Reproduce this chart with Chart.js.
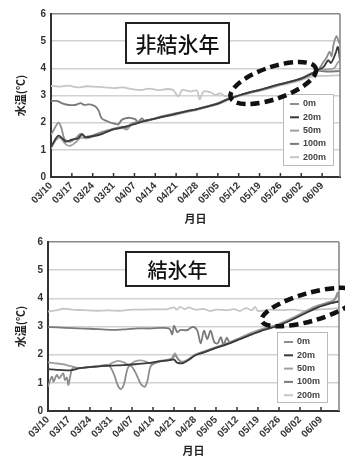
<!DOCTYPE html>
<html>
<head>
<meta charset="utf-8">
<script src="https://cdn.jsdelivr.net/npm/chart.js@4.4.0/dist/chart.umd.min.js"></script>
<style>
  html, body { margin: 0; padding: 0; background: #fff; }
  #wrap { position: relative; width: 345px; height: 459px; }
  canvas { position: absolute; left: 0; }
</style>
</head>
<body>
<div id="wrap">
  <canvas id="topChart" width="345" height="229" style="top:0"></canvas>
  <canvas id="botChart" width="345" height="230" style="top:229px"></canvas>
</div>
<script>
// tick labels, one per week from 03/10 (day 0)
const tickLabels = ["03/10", "03/17", "03/24", "03/31", "04/07", "04/14", "04/21",
  "04/28", "05/05", "05/12", "05/19", "05/26", "06/02", "06/09"];
const seriesNames = ["0m", "20m", "50m", "100m", "200m"];

// 非結氷年 : [day since 03/10, water temp]
const top0m = [[0,1.55],[1,1.75],[2.5,2.0],[3.5,1.8],[4.5,1.4],[6,1.3],[7,1.32],[8.5,1.45],[10,1.6],[11,1.5],
  [13,1.5],[16,1.62],[19,1.72],[21,1.78],[24,1.85],[25,1.8],[27,1.97],[30,2.05],[33,2.1],[37,2.23],[42,2.35],
  [46,2.44],[49,2.5],[53,2.62],[56,2.72],[60,2.9],[63,3.0],[67,3.13],[70,3.22],[74,3.33],[77,3.43],[81,3.53],
  [84,3.64],[87,3.8],[89.5,3.93],[91.5,4.24],[92.6,4.42],[93.5,4.61],[94.2,4.45],[94.9,4.91],[95.8,5.18],[96.6,4.97],[97,4.9]];
const top20m = [[0,1.1],[1,1.3],[2.5,1.52],[4,1.4],[5,1.3],[7,1.38],[9,1.42],[10.5,1.58],[11.5,1.47],[14,1.5],
  [17,1.58],[20,1.72],[23,1.8],[26,1.88],[28,1.95],[31,2.05],[35,2.15],[39,2.25],[42,2.33],[46,2.43],[49,2.5],
  [52,2.58],[56,2.7],[59,2.85],[63,3.0],[66,3.1],[70,3.2],[73,3.3],[77,3.42],[80,3.5],[84,3.62],[87,3.78],
  [89.5,3.93],[91.5,4.05],[93,4.3],[94,4.2],[95.5,4.55],[96.3,4.79],[97,4.3]];
const top50m = [[0,1.05],[1.5,1.35],[3,1.45],[5,1.2],[6.5,1.15],[8,1.25],[10,1.45],[12,1.42],[15,1.55],[18,1.65],
  [21,1.75],[24,1.8],[25.5,1.75],[27,1.92],[30,2.02],[34,2.12],[38,2.22],[42,2.3],[46,2.41],[49,2.47],[53,2.6],
  [56,2.68],[60,2.87],[63,2.98],[67,3.1],[70,3.18],[74,3.3],[77,3.4],[81,3.5],[84,3.6],[87,3.75],[89.5,3.92],
  [92,3.95],[95,4.0],[96.5,4.25],[97,4.2]];
const top100m = [[0,2.8],[2,2.8],[4,2.7],[6,2.65],[8,2.65],[10,2.72],[11,2.66],[13,2.67],[14.8,2.6],[15.9,2.46],
  [17,2.16],[18.7,2.06],[20.9,1.97],[22.6,1.94],[23.7,2.1],[24.9,2.16],[26.5,2.18],[28.2,2.13],[29.3,2.03],
  [30.5,2.16],[31.6,2.05],[33.3,2.1],[37,2.22],[42,2.32],[46,2.42],[49,2.49],[53,2.6],[56,2.7],[60,2.88],
  [63,3.0],[67,3.12],[70,3.2],[74,3.31],[77,3.41],[81,3.52],[84,3.62],[87,3.76],[89.5,3.9],[93,3.88],[97,3.9]];
const top200m = [[0,3.35],[3,3.33],[6,3.36],[9,3.3],[12,3.34],[15,3.32],[18,3.3],[21,3.27],[24,3.3],[27,3.24],
  [30,3.2],[33,3.25],[36,3.2],[39,3.24],[41,3.2],[42.8,2.97],[44,3.2],[46.6,3.15],[49,3.18],[49.9,2.85],
  [51.2,3.15],[53.5,3.12],[55.2,3.02],[56.9,3.08],[58.5,2.97],[60,3.0],[62,2.98],[66,3.08],[70,3.18],
  [74,3.28],[77,3.37],[81,3.47],[84,3.57],[87,3.68],[90,3.72],[93,3.72],[97,3.75]];

// 結氷年
const bot0m = [[0,0.87],[1.3,1.22],[1.9,1.04],[2.9,1.28],[3.7,1.16],[5.1,1.34],[5.6,1.1],[6.3,1.19],[6.8,0.93],
  [8.2,1.52],[10.7,1.52],[16,1.58],[20.2,1.62],[22,1.3],[23.3,0.9],[24.3,0.78],[25.3,0.95],[26.5,1.5],
  [27.5,1.62],[29,1.4],[31,0.95],[32.3,0.86],[33.2,1.1],[34.3,1.6],[37,1.75],[41,1.83],[42.5,1.98],
  [43.3,1.85],[44.5,1.72],[46.5,1.8],[49,1.98],[52,2.1],[56,2.25],[60,2.4],[64,2.57],[68,2.75],[72,2.9],
  [76,3.02],[81,3.25],[86,3.5],[90,3.72],[93,3.85],[95.5,3.95],[96.5,4.2],[97,4.15]];
const bot20m = [[0,1.49],[3,1.46],[6,1.44],[8,1.45],[10.7,1.52],[14,1.56],[18,1.59],[21,1.61],[25,1.63],
  [29,1.66],[33,1.7],[37,1.76],[40,1.8],[42,1.82],[43,1.72],[45,1.7],[47,1.82],[49,1.97],[52,2.08],[56,2.24],
  [60,2.38],[64,2.55],[68,2.72],[72,2.88],[76,3.0],[81,3.22],[86,3.48],[90,3.68],[94,3.82],[97,3.9]];
const bot50m = [[0,1.73],[2,1.7],[5.1,1.66],[8,1.58],[10.7,1.52],[14,1.57],[18,1.6],[20.2,1.63],[21.5,1.72],
  [23.5,1.78],[25.5,1.72],[26.9,1.63],[27.5,1.66],[29,1.76],[31,1.8],[33,1.74],[34.2,1.68],[37,1.77],
  [41,1.85],[42.3,2.05],[43,1.9],[44.5,1.75],[46.5,1.82],[49,2.0],[52,2.12],[56,2.27],[60,2.42],[64,2.6],
  [68,2.78],[72,2.93],[76,3.05],[81,3.28],[86,3.55],[90,3.75],[93,3.82],[95,3.9],[96.5,4.1],[97,4.0]];
const bot100m = [[0,2.98],[3,2.97],[6,2.95],[10,2.93],[14,2.92],[18,2.9],[22,2.88],[26,2.9],[30,2.93],
  [34,2.93],[38,2.95],[40.5,2.92],[41.4,2.72],[42,3.02],[43.1,2.8],[44.2,2.88],[46.4,2.87],[47.5,2.95],
  [48.7,2.98],[49.8,2.85],[50.9,2.4],[52,2.85],[53.1,2.55],[54.2,2.85],[55.4,2.45],[56.5,2.4],[57.6,2.62],
  [58.5,2.35],[59.6,2.6],[60.7,2.42],[64,2.57],[68,2.74],[72,2.9],[76,3.02],[81,3.24],[86,3.5],[90,3.7],
  [94,3.82],[97,3.88]];
const bot200m = [[0,3.53],[3,3.58],[5,3.63],[8,3.6],[12,3.58],[16,3.56],[20,3.57],[24,3.56],[28,3.6],
  [32,3.6],[36,3.61],[40,3.62],[42,3.68],[43,3.6],[44,3.7],[45.5,3.62],[47,3.68],[49,3.6],[52,3.62],
  [54,3.55],[56,3.6],[60,3.58],[62,3.62],[64,3.55],[66,3.65],[68,3.58],[69,3.7],[70,3.55],[74,3.6],
  [78,3.58],[82,3.6],[86,3.55],[90,3.6],[93,3.62],[97,3.65]];

const lineColors = ["#8e8e8e", "#3a3a3a", "#a0a0a0", "#7a7a7a", "#c6c6c6"];
const drawOrder = [1, 0, 2, 3, 4];
const latin = "'Liberation Sans', 'Noto Sans CJK JP', sans-serif";
const cjk = "'Noto Sans CJK JP', sans-serif";

const decor = {
  id: "decor",
  afterDraw(chart, args, o) {
    const ctx = chart.ctx;
    const a = chart.chartArea;
    const xs = chart.scales.x, ys = chart.scales.y;
    ctx.save();
    // right frame line
    ctx.strokeStyle = "#808080";
    ctx.lineWidth = 1.5;
    ctx.beginPath();
    ctx.moveTo(a.right, a.top);
    ctx.lineTo(a.right, a.bottom);
    ctx.stroke();
    // inner tick marks on the date axis
    ctx.strokeStyle = "#333";
    ctx.lineWidth = 1.5;
    xs.ticks.forEach((t) => {
      if (t.value === 0) return;
      const px = xs.getPixelForValue(t.value);
      ctx.beginPath();
      ctx.moveTo(px, a.bottom);
      ctx.lineTo(px, a.bottom - 4);
      ctx.stroke();
    });
    // title box
    const tb = o.titleBox;
    ctx.fillStyle = "#fff";
    ctx.fillRect(tb.x, tb.y, tb.w, tb.h);
    ctx.strokeStyle = "#222";
    ctx.lineWidth = 2;
    ctx.strokeRect(tb.x, tb.y, tb.w, tb.h);
    ctx.fillStyle = "#111";
    ctx.font = "500 " + tb.size + "px " + cjk;
    ctx.textAlign = "center";
    ctx.textBaseline = "middle";
    ctx.fillText(tb.text, tb.x + tb.w / 2, tb.y + tb.h / 2 + 1);
    // legend
    const lg = o.legend;
    ctx.fillStyle = "#fff";
    ctx.fillRect(lg.x, lg.y, lg.w, lg.h);
    ctx.strokeStyle = "#bbb";
    ctx.lineWidth = 1;
    ctx.strokeRect(lg.x + 0.5, lg.y + 0.5, lg.w, lg.h);
    ctx.font = "bold 9px " + latin;
    ctx.textAlign = "left";
    chart.data.datasets.forEach((ds, i) => {
      const yy = lg.y + 10 + i * 13.3;
      ctx.strokeStyle = ds.borderColor;
      ctx.lineWidth = 2;
      ctx.beginPath();
      ctx.moveTo(lg.x + 7, yy);
      ctx.lineTo(lg.x + 16, yy);
      ctx.stroke();
      ctx.fillStyle = "#444";
      ctx.fillText(ds.label, lg.x + 20, yy);
    });
    // dashed ellipse
    const el = o.ellipse;
    ctx.strokeStyle = "#111";
    ctx.lineWidth = 4.5;
    ctx.setLineDash([9, 5]);
    ctx.beginPath();
    ctx.ellipse(xs.getPixelForValue(el.day), ys.getPixelForValue(el.temp), el.rx, el.ry,
      el.rot * Math.PI / 180, 0, Math.PI * 2);
    ctx.stroke();
    ctx.restore();
  }
};

function makeChart(id, series, cfg) {
  const ctx = document.getElementById(id).getContext("2d");
  return new Chart(ctx, {
    type: "line",
    data: {
      datasets: series.map((s, i) => ({
        label: seriesNames[i],
        data: s.map(([d, v]) => ({ x: d, y: v })),
        borderColor: lineColors[i],
        borderWidth: 1.8,
        pointRadius: 0,
        tension: 0.3,
        fill: false,
        order: drawOrder[i],
      })),
    },
    options: {
      responsive: false,
      animation: false,
      layout: { padding: { top: cfg.top, right: cfg.right, left: 0, bottom: 0 } },
      plugins: {
        legend: { display: false },
        tooltip: { enabled: false },
        decor: cfg.decor,
      },
      scales: {
        x: {
          type: "linear",
          min: 0,
          max: 97,
          afterBuildTicks: (s) => { s.ticks = tickLabels.map((_, i) => ({ value: i * 7 })); },
          afterFit: (s) => { s.height = cfg.xHeight; },
          ticks: {
            autoSkip: false,
            minRotation: 45,
            maxRotation: 45,
            padding: 3,
            color: "#333",
            font: { family: latin, size: 10, weight: "bold" },
            callback: (v, i) => tickLabels[i],
          },
          grid: { display: false, drawTicks: false },
          border: { color: "#333", width: 2 },
          title: {
            display: true,
            text: "月日",
            color: "#222",
            font: { family: cjk, size: 11, weight: "bold" },
            padding: { top: 0, bottom: cfg.xTitlePad },
          },
        },
        y: {
          min: 0,
          max: 6,
          afterFit: (s) => { s.width = cfg.yWidth; },
          ticks: {
            stepSize: 1,
            padding: 5,
            color: "#333",
            font: { family: latin, size: 10, weight: "bold" },
          },
          grid: {
            drawTicks: false,
            lineWidth: 1.5,
            color: (c) => (c.tick && c.tick.value === 6 ? "#8a8a8a" : "#d2d2d2"),
          },
          border: { color: "#333", width: 2 },
          title: {
            display: true,
            text: "水温(℃)",
            color: "#222",
            font: { family: cjk, size: 11, weight: "bold" },
            padding: { top: 14, bottom: 0 },
          },
        },
      },
    },
    plugins: [decor],
  });
}

makeChart("topChart", [top0m, top20m, top50m, top100m, top200m], {
  top: 14, right: 5, yWidth: 51, xHeight: 52, xTitlePad: 4,
  decor: {
    titleBox: { x: 126, y: 23, w: 103, h: 40, text: "非結氷年", size: 21 },
    legend: { x: 283, y: 94, w: 50, h: 71 },
    ellipse: { day: 74.6, temp: 3.46, rx: 45, ry: 16, rot: -19 },
  },
});

makeChart("botChart", [bot0m, bot20m, bot50m, bot100m, bot200m], {
  top: 13, right: 6, yWidth: 48, xHeight: 48, xTitlePad: 2,
  decor: {
    titleBox: { x: 126, y: 23, w: 103, h: 34, text: "結氷年", size: 20 },
    legend: { x: 277, y: 103, w: 50, h: 70 },
    ellipse: { day: 87.3, temp: 3.69, rx: 50, ry: 14, rot: -16 },
  },
});
</script>
</body>
</html>
